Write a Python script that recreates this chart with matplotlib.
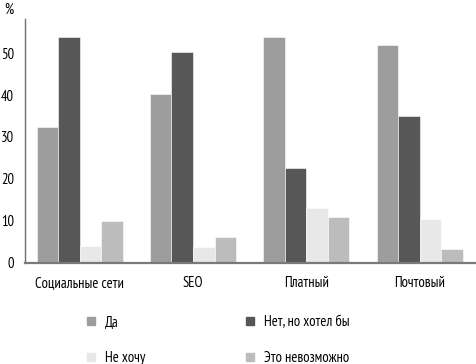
import numpy as np
import matplotlib.pyplot as plt
from matplotlib.lines import Line2D

# data
categories = ['Социальные сети', 'SEO', 'Платный', 'Почтовый']
series = ['Да', 'Нет, но хотел бы', 'Не хочу', 'Это невозможно']
da = [32.5, 40.3, 53.8, 52.0]
net = [53.8, 50.4, 22.7, 34.9]
ne_hochu = [4.0, 3.6, 13.1, 10.4]
nevozm = [9.9, 6.1, 10.8, 3.3]
y_ticks = [0, 10, 20, 30, 40, 50]

colors = ['#9d9d9d', '#575757', '#e8e8e8', '#bcbcbc']
values = [da, net, ne_hochu, nevozm]

plt.rcParams['font.family'] = ['PT Sans Narrow', 'DejaVu Sans']
plt.rcParams['font.size'] = 10.5

W, H = 477, 364
fig = plt.figure(figsize=(W / 100, H / 100), dpi=100)
ax = fig.add_axes([25 / W, 1 - 262.5 / H, 1 - 25 / W, (262.5 - 19) / H])

x = np.arange(len(categories))
w = 0.19
for k in range(4):
    ax.bar(x + (k - 1.5) * w, values[k], width=w, color=colors[k],
           edgecolor='white', linewidth=0.4, zorder=2)

ax.set_xlim(-0.483, 3.507)
ax.set_ylim(0, 58.2)
ax.set_yticks(y_ticks)
ax.set_xticks(x)
ax.set_xticklabels(categories)
ax.tick_params(axis='both', length=0, colors='black')
ax.tick_params(axis='y', pad=8)
ax.tick_params(axis='x', pad=10)
for s in ['top', 'right']:
    ax.spines[s].set_visible(False)
ax.spines['left'].set_color('#6e6e6e')
ax.spines['bottom'].set_color('#7a7a7a')
ax.spines['left'].set_linewidth(1.0)
ax.spines['bottom'].set_linewidth(1.6)
ax.spines['bottom'].set_zorder(3)

fig.text(14 / W, 1 - 10 / H, '%', ha='right', va='center', fontsize=10.5)

# legend fills column by column: reorder so rows read Да / Нет, Не хочу / Это
order = [0, 2, 1, 3]
handles = [Line2D([], [], marker='s', linestyle='none', markersize=6,
                  markerfacecolor=colors[i], markeredgecolor=colors[i]) for i in order]
fig.legend(handles, [series[i] for i in order], loc='center left', ncol=2,
           bbox_to_anchor=(83.7 / W, 1 - 340 / H), frameon=False,
           handlelength=1.0, handletextpad=0.45, columnspacing=6.7,
           labelspacing=1.47, borderpad=0, borderaxespad=0)

fig.savefig('out.png', dpi=100)
